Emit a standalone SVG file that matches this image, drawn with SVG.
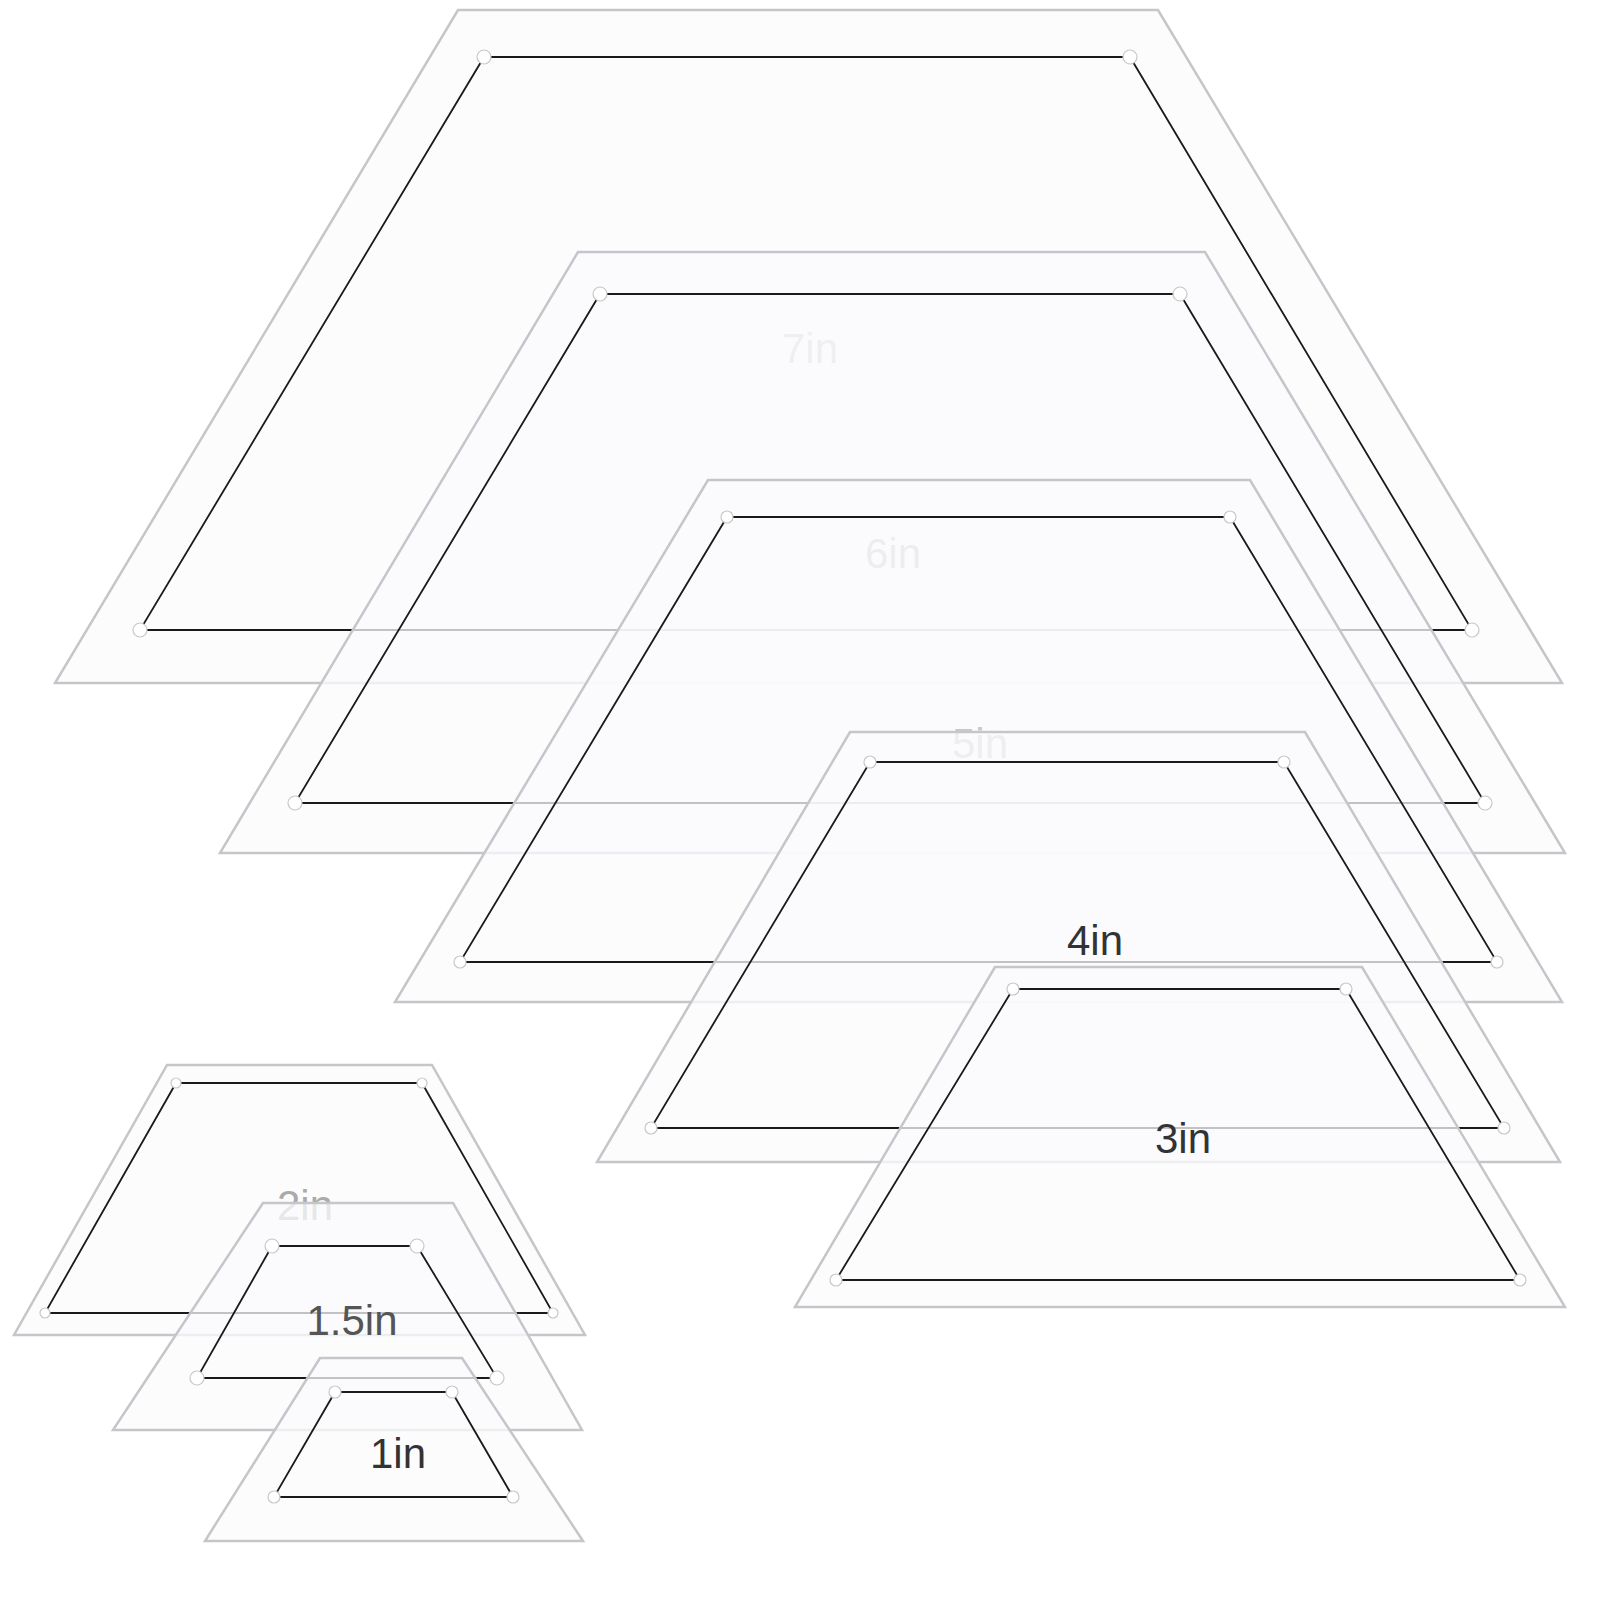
<svg xmlns="http://www.w3.org/2000/svg" width="1600" height="1600" viewBox="0 0 1600 1600">
<style>
.o{fill:#fbfbfc;fill-opacity:0.75;stroke:#c4c6ca;stroke-width:2.5}
.i{fill:none;stroke:#1a1a1a;stroke-width:1.8}
.h{fill:#fff;stroke:#c8c8c8;stroke-width:1.2}
.t{font-family:"Liberation Sans",Arial,sans-serif;font-size:42px;text-anchor:middle}
</style>
<rect width="1600" height="1600" fill="#fff"/>
<g id="p7"><polygon class="o" points="458,10 1158,10 1562,683 55,683"/><polygon class="i" points="484,57 1130,57 1472,630 140,630"/>
<circle class="h" cx="484" cy="57" r="7"/><circle class="h" cx="1130" cy="57" r="7"/><circle class="h" cx="1472" cy="630" r="7"/><circle class="h" cx="140" cy="630" r="7"/>
<text class="t" x="810" y="363" fill="#c9c9cc">7in</text></g>
<g id="p6"><polygon class="o" points="578,252 1205,252 1565,853 220,853"/><polygon class="i" points="600,294 1180,294 1485,803 295,803"/>
<circle class="h" cx="600" cy="294" r="7"/><circle class="h" cx="1180" cy="294" r="7"/><circle class="h" cx="1485" cy="803" r="7"/><circle class="h" cx="295" cy="803" r="7"/>
<text class="t" x="893" y="568" fill="#c4c4c8">6in</text></g>
<g id="p5"><polygon class="o" points="708,480 1250,480 1562,1002 395,1002"/><polygon class="i" points="727,517 1230,517 1497,962 460,962"/>
<circle class="h" cx="727" cy="517" r="6"/><circle class="h" cx="1230" cy="517" r="6"/><circle class="h" cx="1497" cy="962" r="6"/><circle class="h" cx="460" cy="962" r="6"/>
<text class="t" x="980" y="758" fill="#c8c8cb">5in</text></g>
<g id="p4"><polygon class="o" points="850,732 1305,732 1560,1162 597,1162"/><polygon class="i" points="870,762 1284,762 1504,1128 651,1128"/>
<circle class="h" cx="870" cy="762" r="6"/><circle class="h" cx="1284" cy="762" r="6"/><circle class="h" cx="1504" cy="1128" r="6"/><circle class="h" cx="651" cy="1128" r="6"/>
<text class="t" x="1095" y="955" fill="#333">4in</text></g>
<g id="p3"><polygon class="o" points="995,967 1362,967 1565,1307 795,1307"/><polygon class="i" points="1013,989 1346,989 1520,1280 836,1280"/>
<circle class="h" cx="1013" cy="989" r="6"/><circle class="h" cx="1346" cy="989" r="6"/><circle class="h" cx="1520" cy="1280" r="6"/><circle class="h" cx="836" cy="1280" r="6"/>
<text class="t" x="1183" y="1153" fill="#333">3in</text></g>
<g id="p2"><polygon class="o" points="167,1065 432,1065 585,1335 14,1335"/><polygon class="i" points="176,1083 422,1083 553,1313 45,1313"/>
<circle class="h" cx="176" cy="1083" r="5"/><circle class="h" cx="422" cy="1083" r="5"/><circle class="h" cx="553" cy="1313" r="5"/><circle class="h" cx="45" cy="1313" r="5"/>
<text class="t" x="305" y="1220" fill="#aaa">2in</text></g>
<g id="p15"><polygon class="o" points="263,1203 453,1203 582,1430 113,1430"/><polygon class="i" points="272,1246 417,1246 497,1378 197,1378"/>
<circle class="h" cx="272" cy="1246" r="7"/><circle class="h" cx="417" cy="1246" r="7"/><circle class="h" cx="497" cy="1378" r="7"/><circle class="h" cx="197" cy="1378" r="7"/>
<text class="t" x="352" y="1335" fill="#555">1.5in</text></g>
<g id="p1"><polygon class="o" points="320,1358 462,1358 583,1541 205,1541"/><polygon class="i" points="335,1392 452,1392 513,1497 274,1497"/>
<circle class="h" cx="335" cy="1392" r="6"/><circle class="h" cx="452" cy="1392" r="6"/><circle class="h" cx="513" cy="1497" r="6"/><circle class="h" cx="274" cy="1497" r="6"/>
<text class="t" x="398" y="1468" fill="#333">1in</text></g>
</svg>
